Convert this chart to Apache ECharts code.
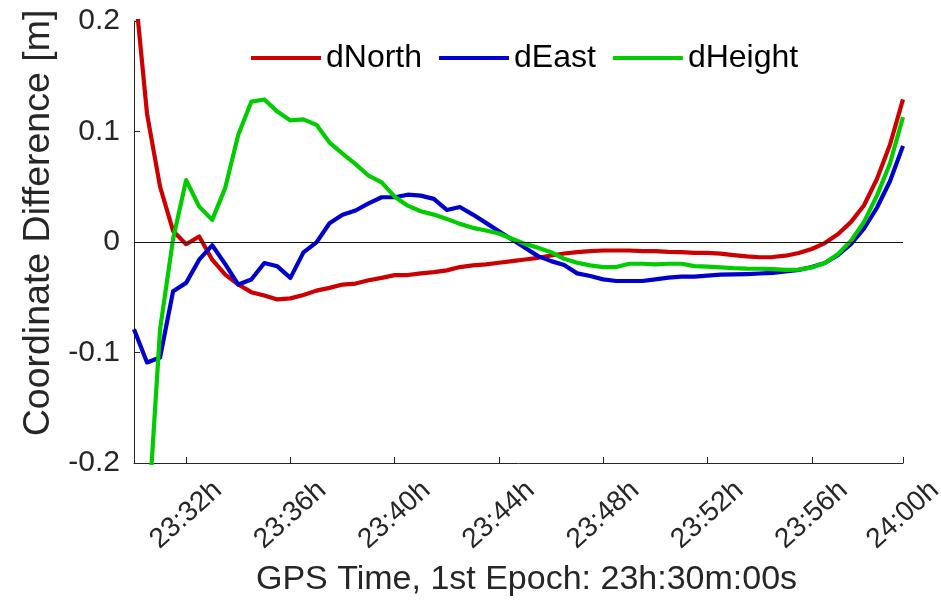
<!DOCTYPE html>
<html>
<head>
<meta charset="utf-8">
<script src="https://cdn.jsdelivr.net/npm/echarts@6/dist/echarts.min.js"></script>
<style>
html,body{margin:0;padding:0;background:#fff;}
#chart{width:941px;height:606px;}
</style>
</head>
<body>
<div id="chart"></div>
<script>
// Epoch times in minutes after 23:30:00 (30 s epochs)
const epochMin = [0,0.5,1,1.5,2,2.5,3,3.5,4,4.5,5,5.5,6,6.5,7,7.5,8,8.5,9,9.5,
  10,10.5,11,11.5,12,12.5,13,13.5,14,14.5,15,15.5,16,16.5,17,17.5,18,18.5,19,19.5,
  20,20.5,21,21.5,22,22.5,23,23.5,24,24.5,25,25.5,26,26.5,27,27.5,28,28.5,29,29.5];

const dNorth = [0.238,0.116,0.050,0.010,-0.002,0.005,-0.016,-0.0295,-0.0385,-0.0454,
  -0.0484,-0.052,-0.051,-0.048,-0.044,-0.0415,-0.0385,-0.0376,-0.0346,-0.0325,
  -0.030,-0.0299,-0.0284,-0.0272,-0.0257,-0.0227,-0.0212,-0.0203,-0.0188,-0.0173,
  -0.0158,-0.0143,-0.0122,-0.0104,-0.0092,-0.0083,-0.0077,-0.0077,-0.0077,-0.0083,
  -0.0083,-0.0089,-0.0092,-0.0098,-0.0098,-0.0105,-0.0118,-0.013,-0.0138,-0.0136,
  -0.0124,-0.010,-0.0063,-0.001,0.007,0.018,0.033,0.057,0.088,0.129];

const dEast = [-0.079,-0.109,-0.1045,-0.0445,-0.037,-0.016,-0.003,-0.020,-0.0385,-0.034,
  -0.019,-0.022,-0.0325,-0.0094,-0.0004,0.017,0.0246,0.0285,0.035,0.0405,
  0.0405,0.0428,0.042,0.039,0.029,0.0317,0.0248,0.0173,0.0098,0.0023,
  -0.0053,-0.0128,-0.0173,-0.0209,-0.0284,-0.0308,-0.0338,-0.0353,-0.0353,-0.0353,
  -0.0338,-0.0323,-0.0314,-0.0314,-0.0305,-0.0295,-0.0293,-0.029,-0.0285,-0.028,
  -0.0267,-0.0252,-0.0226,-0.019,-0.012,-0.002,0.012,0.031,0.055,0.087];

const dHeight = [-0.45,-0.267,-0.079,0.003,0.056,0.032,0.020,0.049,0.097,0.127,
  0.129,0.118,0.110,0.111,0.106,0.090,0.080,0.0705,0.060,0.054,
  0.041,0.0329,0.0278,0.0248,0.0209,0.0164,0.0128,0.0104,0.0077,0.0029,
  -0.0017,-0.0053,-0.0092,-0.0152,-0.0188,-0.0212,-0.0227,-0.0227,-0.0197,-0.0197,
  -0.0203,-0.0197,-0.0197,-0.0218,-0.0222,-0.023,-0.0237,-0.0241,-0.0242,-0.0246,
  -0.0252,-0.025,-0.023,-0.019,-0.011,0.001,0.018,0.042,0.071,0.113];

const xTickPos = [2,6,10,14,18,22,26,29.5];
const xTickLabels = ['23:32h','23:36h','23:40h','23:44h','23:48h','23:52h','23:56h','24:00h'];
const yTickLabels = {'0.2':'0.2','0.1':'0.1','0':'0','-0.1':'-0.1','-0.2':'-0.2'};

const seriesNames = ['dNorth','dEast','dHeight'];
const seriesColors = ['#cc0000','#0000cc','#00cc00'];
const seriesValues = [dNorth, dEast, dHeight];

const FONT = 'Liberation Sans, Arial, Helvetica, sans-serif';
const INK = '#262626';

const chart = echarts.init(document.getElementById('chart'), null, {renderer:'canvas'});

const series = seriesNames.map((name, k) => ({
  name: name,
  type: 'line',
  data: epochMin.map((t, i) => [t, seriesValues[k][i]]),
  showSymbol: false,
  symbol: 'none',
  clip: true,
  z: 3,
  lineStyle: { color: seriesColors[k], width: 4.2, join: 'round' },
  itemStyle: { color: seriesColors[k] }
}));

series.unshift({
  name: 'zero',
  type: 'line',
  data: [],
  z: 1,
  markLine: {
    silent: true,
    symbol: 'none',
    label: { show: false },
    lineStyle: { color: '#111', width: 1, type: 'solid' },
    emphasis: { disabled: true },
    data: [{ yAxis: 0 }]
  }
});

chart.setOption({
  animation: false,
  backgroundColor: '#fff',
  grid: { left: 134, right: 38, top: 21, bottom: 143, containLabel: false, outerBoundsMode: 'none' },
  legend: {
    data: seriesNames,
    left: 246,
    top: 35,
    icon: 'rect',
    itemWidth: 70,
    itemHeight: 4,
    itemGap: 17,
    textStyle: { fontFamily: FONT, fontSize: 32, color: '#000', lineHeight: 36 }
  },
  xAxis: {
    type: 'value',
    min: 0,
    max: 29.5,
    name: 'GPS Time, 1st Epoch: 23h:30m:00s',
    nameLocation: 'middle',
    nameGap: 100,
    nameTextStyle: { fontFamily: FONT, fontSize: 34, color: INK, padding: [0, 0, 0, 16] },
    axisLine: { show: true, onZero: false, lineStyle: { color: INK, width: 1 } },
    axisTick: { show: true, inside: true, length: 6, customValues: xTickPos, lineStyle: { color: INK } },
    splitLine: { show: false },
    axisLabel: {
      customValues: xTickPos,
      rotate: 42,
      align: 'center',
      verticalAlign: 'middle',
      margin: 52,
      fontFamily: FONT,
      fontSize: 28,
      color: INK,
      formatter: v => {
        const i = xTickPos.findIndex(p => Math.abs(p - v) < 1e-6);
        return i >= 0 ? xTickLabels[i] : '';
      }
    }
  },
  yAxis: {
    type: 'value',
    min: -0.2,
    max: 0.2,
    interval: 0.1,
    name: 'Coordinate Difference [m]',
    nameLocation: 'middle',
    nameGap: 72,
    nameTextStyle: { fontFamily: FONT, fontSize: 37.5, color: INK, padding: [0, 0, 0, 38] },
    axisLine: { show: true, onZero: false, lineStyle: { color: INK, width: 1 } },
    axisTick: { show: true, inside: true, length: 6, lineStyle: { color: INK } },
    splitLine: { show: false },
    axisLabel: {
      margin: 14,
      fontFamily: FONT,
      fontSize: 30,
      color: INK,
      formatter: v => {
        const key = String(Math.round(v * 10) / 10);
        return yTickLabels[key] !== undefined ? yTickLabels[key] : key;
      }
    }
  },
  series: series
});
</script>
</body>
</html>
